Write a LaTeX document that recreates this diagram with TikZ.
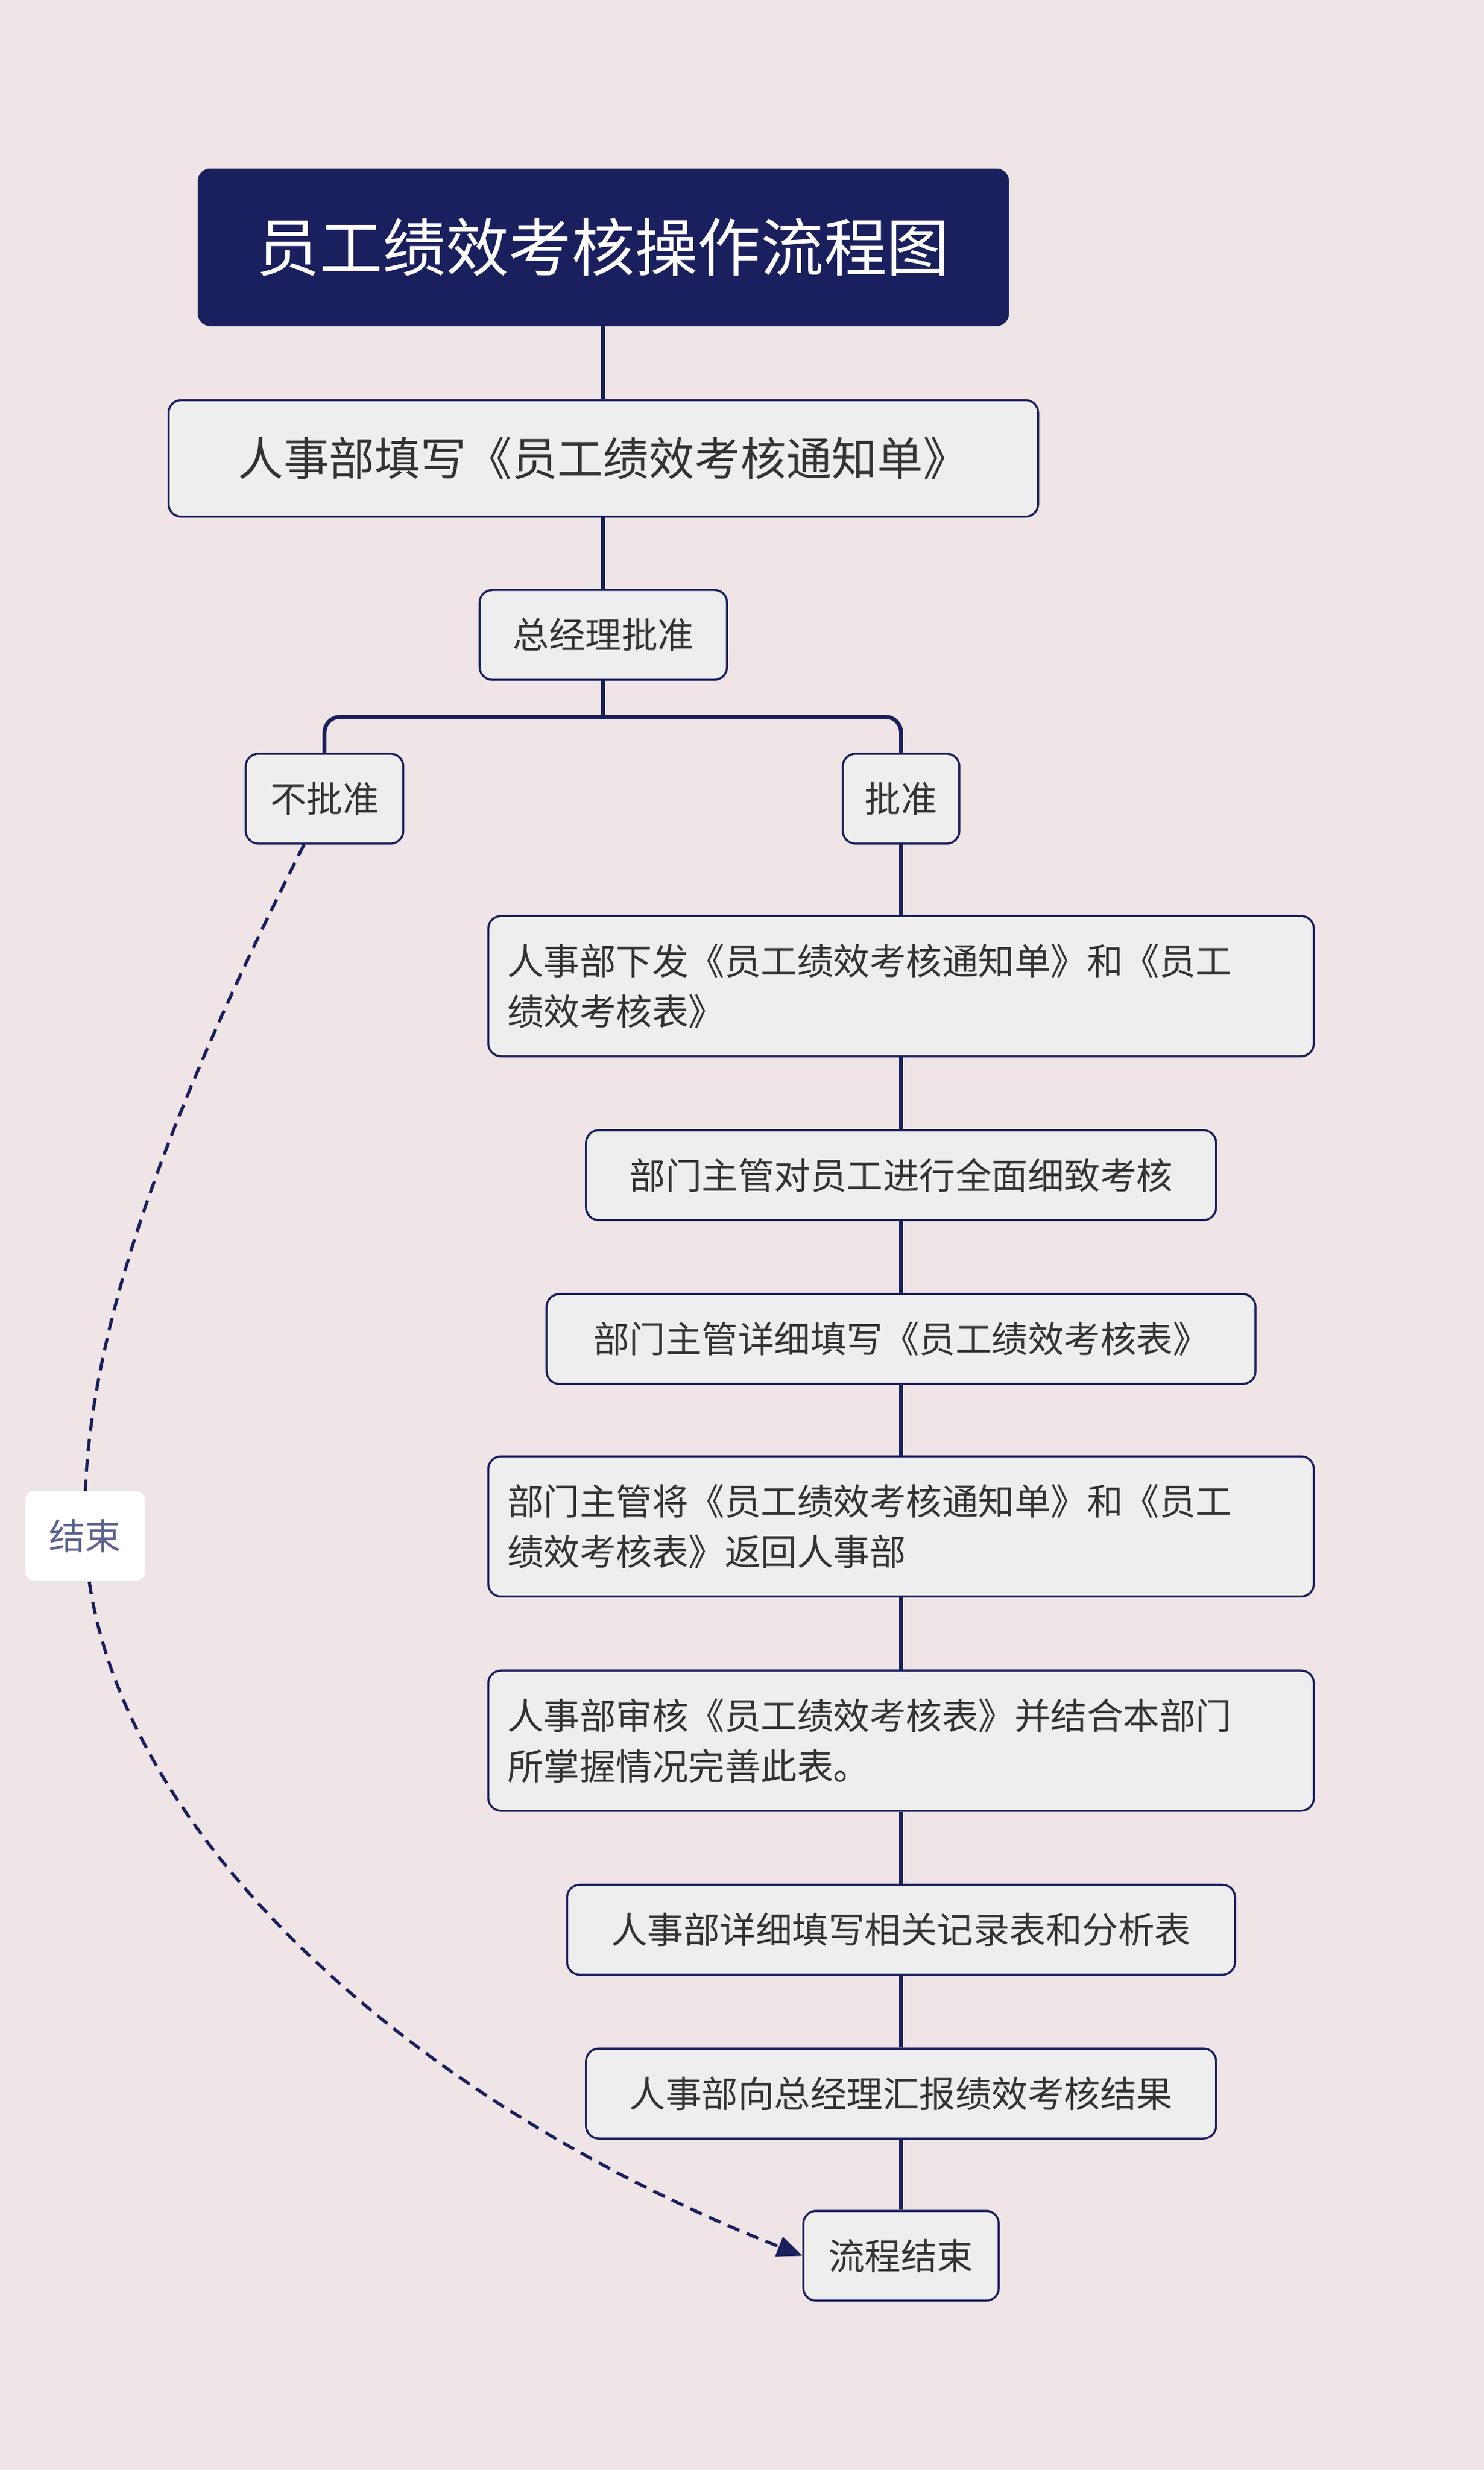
\documentclass[tikz,border=0pt]{standalone}
\usepackage{fontspec}
\setmainfont{Noto Sans CJK SC}
\usetikzlibrary{arrows.meta}
\definecolor{bgpink}{HTML}{EFE4E6}
\definecolor{navy}{HTML}{1A1F5E}
\definecolor{boxgray}{HTML}{EEEEEE}
\definecolor{txtgray}{HTML}{333333}
\begin{document}
\begin{tikzpicture}[x=1pt,y=-1pt,
  topic/.style={draw=navy,fill=boxgray,line width=1.3pt,rounded corners=8pt,text=txtgray,font=\fontsize{23}{32}\selectfont,inner sep=0pt},
  link/.style={navy,line width=2.5pt}]
  \fill[bgpink] (0,0) rectangle (942,1568);
  \useasboundingbox (0,0) rectangle (942,1568);

  % main line
  \node[fill=navy,rounded corners=8pt,text=white,minimum width=515pt,minimum height=100pt,inner sep=0pt,font=\fontsize{40}{48}\selectfont] (title) at (383,157) {员工绩效考核操作流程图};
  \node[topic,minimum width=552pt,minimum height=74pt,font=\fontsize{29}{36}\selectfont] (notice) at (383,291) {人事部填写《员工绩效考核通知单》};
  \node[topic,minimum width=157pt,minimum height=57pt] (gm) at (383,403) {总经理批准};
  \node[topic,minimum width=100pt,minimum height=57pt] (no) at (206,507) {不批准};
  \node[topic,minimum width=74pt,minimum height=57pt] (yes) at (572,507) {批准};

  % steps
  \node[topic,minimum width=524pt,minimum height=89pt,align=left,text width=500pt] (s1) at (572,626) {人事部下发《员工绩效考核通知单》和《员工\\绩效考核表》};
  \node[topic,minimum width=400pt,minimum height=57pt] (s2) at (572,746) {部门主管对员工进行全面细致考核};
  \node[topic,minimum width=450pt,minimum height=57pt] (s3) at (572,850) {部门主管详细填写《员工绩效考核表》};
  \node[topic,minimum width=524pt,minimum height=89pt,align=left,text width=500pt] (s4) at (572,969) {部门主管将《员工绩效考核通知单》和《员工\\绩效考核表》返回人事部};
  \node[topic,minimum width=524pt,minimum height=89pt,align=left,text width=500pt] (s5) at (572,1105) {人事部审核《员工绩效考核表》并结合本部门\\所掌握情况完善此表。};
  \node[topic,minimum width=424pt,minimum height=57pt] (s6) at (572,1225) {人事部详细填写相关记录表和分析表};
  \node[topic,minimum width=400pt,minimum height=57pt] (s7) at (572,1329) {人事部向总经理汇报绩效考核结果};
  \node[topic,minimum width=124pt,minimum height=57pt] (done) at (572,1432) {流程结束};

  \draw[link] (title) -- (notice);
  \draw[link] (notice) -- (gm);
  \coordinate (fork) at (383,455);
  \draw[link] (gm) -- (fork);
  \draw[link,rounded corners=10pt] (no.north) |- (fork) -| (yes.north);
  \draw[link] (yes) -- (s1);
  \draw[link] (s1) -- (s2);
  \draw[link] (s2) -- (s3);
  \draw[link] (s3) -- (s4);
  \draw[link] (s4) -- (s5);
  \draw[link] (s5) -- (s6);
  \draw[link] (s6) -- (s7);
  \draw[link] (s7) -- (done);

  % back link
  \coordinate (bend) at (54,975);
  \draw[navy,line width=2pt,dash pattern=on 8pt off 5pt,-{Triangle[length=16pt,width=13pt]}]
    ([xshift=-13pt]no.south) .. controls (110,700) and (50,850) .. (bend)
    .. controls (60,1150) and (250,1330) .. (done.west);
  \node[fill=white,rounded corners=6pt,text=navy!70,font=\fontsize{23}{28}\selectfont,minimum width=76pt,minimum height=57pt,inner sep=0pt] (endlabel) at (bend) {结束};
\end{tikzpicture}
\end{document}
